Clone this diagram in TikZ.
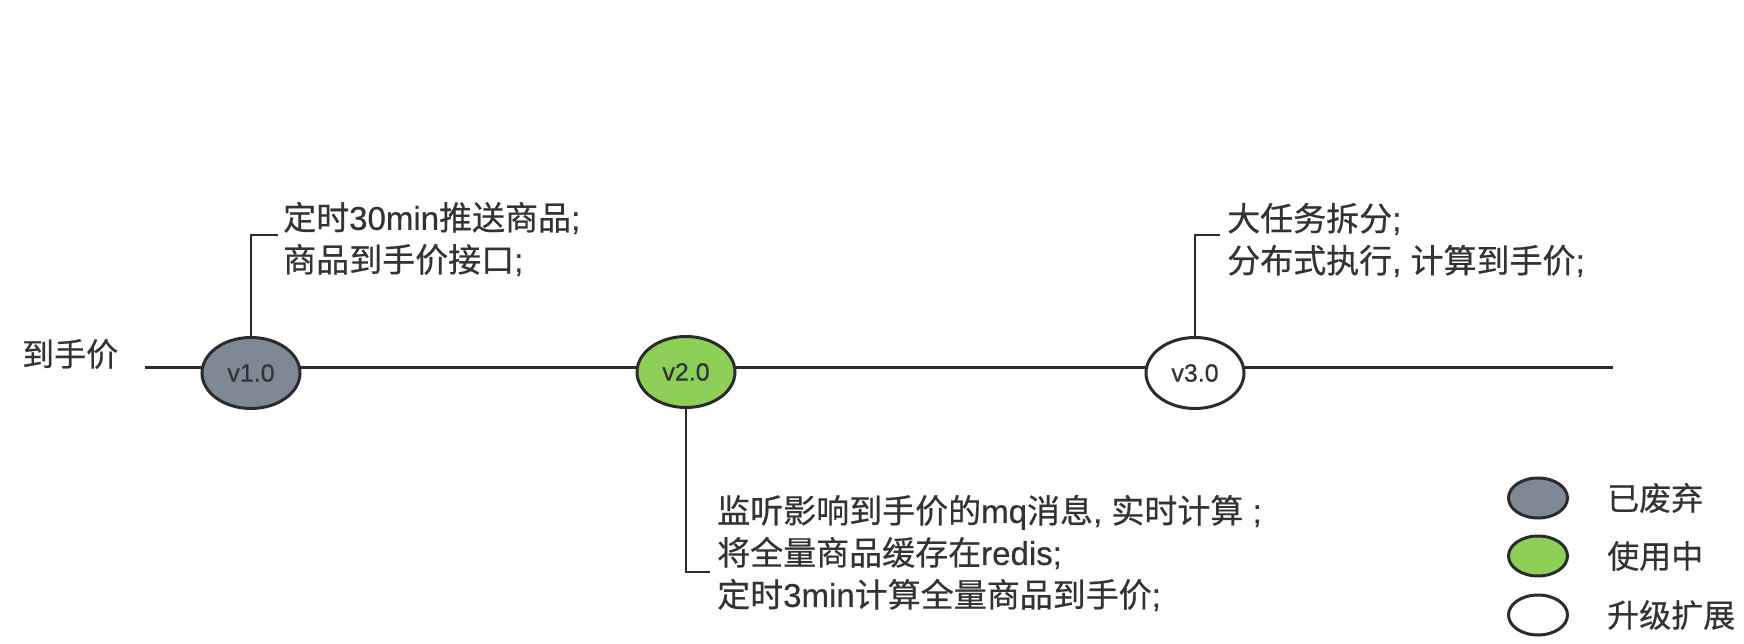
\documentclass[tikz,border=0pt]{standalone}
\usepackage{fontspec}
\setmainfont{Noto Sans CJK SC}[FakeBold=0.5]
\newfontfamily\latinfont{Liberation Sans}[FakeBold=0.5]
\newcommand{\lat}[1]{{\latinfont #1}}
\usepackage{tikz}
\usetikzlibrary{positioning,shapes.geometric}
\definecolor{oldgray}{RGB}{127,137,150}
\definecolor{livegreen}{RGB}{141,207,87}
\definecolor{inkdark}{RGB}{43,43,43}
\definecolor{textdark}{RGB}{51,51,51}

\begin{document}
\begin{tikzpicture}[x=1pt, y=-1pt,
  every node/.style={text=textdark},
  ver/.style={ellipse, draw=inkdark, line width=3pt, minimum width=98pt, minimum height=71pt, inner sep=0pt, font=\latinfont\fontsize{25}{25}\selectfont},
  key/.style={ellipse, draw=inkdark, line width=3pt, minimum width=59pt, minimum height=40pt, inner sep=0pt},
  keytext/.style={anchor=west, inner sep=0pt, font=\fontsize{32}{32}\selectfont},
  note/.style={anchor=west, align=left, inner sep=0pt, font=\fontsize{33}{42}\selectfont},
  stem/.style={draw=inkdark, line width=2.7pt}]
\path[use as bounding box, fill=white] (0,0) rectangle (1744,644);
% time line
\node[keytext] (title) at (22,354) {到手价};
\coordinate (lstart) at (145,367);
\coordinate (lend) at (1613,367);
\draw[inkdark, line width=3pt] (lstart) -- (lend);
% versions
\node[ver, fill=oldgray] (v1) at (251,373) {v1.0};
\node[ver, fill=livegreen] (v2) at (686,372) {v2.0};
\node[ver, fill=white] (v3) at (1195,373) {v3.0};
% notes
\node[note] (t1) at (283,239) {定时\lat{30min}推送商品\lat{;}\\商品到手价接口\lat{;}};
\node[note] (t2) at (717,553) {监听影响到手价的\lat{mq}消息\lat{, }实时计算\lat{\ ;}\\将全量商品缓存在\lat{redis;}\\定时\lat{3min}计算全量商品到手价\lat{;}};
\node[note] (t3) at (1227,240) {大任务拆分\lat{;}\\分布式执行\lat{, }计算到手价\lat{;}};
\draw[stem] (v1.north) |- ([xshift=-5pt,yshift=4pt]t1.west);
\draw[stem] (v2.south) |- ([xshift=-7pt,yshift=-19pt]t2.west);
\draw[stem] (v3.north) |- ([xshift=-7pt,yshift=5pt]t3.west);
% legend
\node[key, fill=oldgray] (k1) at (1538,498) {};
\node[key, fill=livegreen] (k2) at (1538,556) {};
\node[key, fill=white] (k3) at (1538,615) {};
\node[keytext, right=38pt of k1] (l1) {已废弃};
\node[keytext, right=38pt of k2] (l2) {使用中};
\node[keytext, right=38pt of k3] (l3) {升级扩展};
\end{tikzpicture}
\end{document}
